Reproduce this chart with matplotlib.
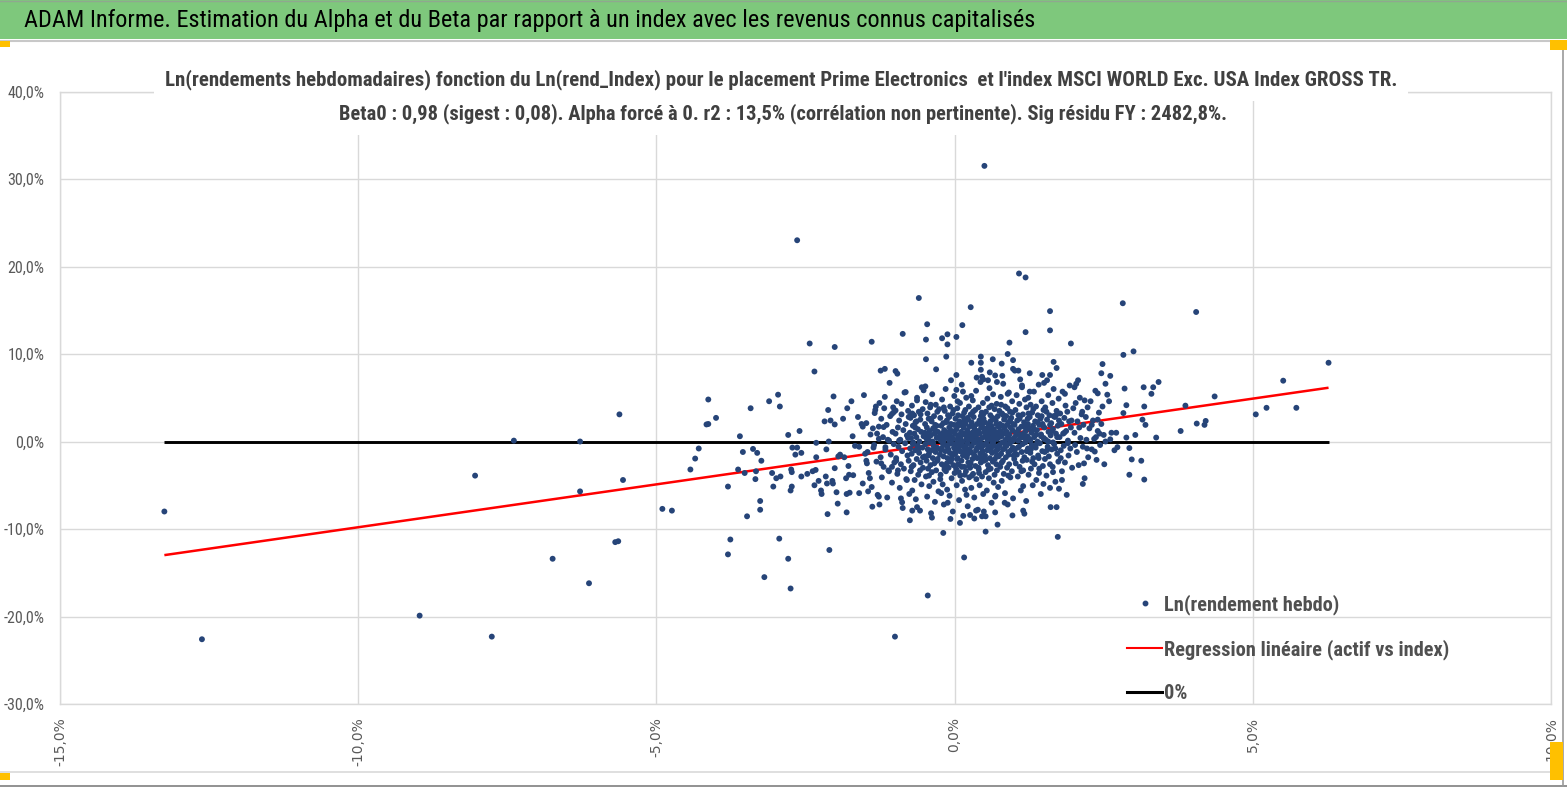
import matplotlib
matplotlib.use("Agg")
import matplotlib.pyplot as plt
from matplotlib.patches import Rectangle
from matplotlib.lines import Line2D
from matplotlib import font_manager as fm
from matplotlib.font_manager import FontProperties
import matplotlib.ticker as mticker

# ---------------- texts ----------------
banner_title = "ADAM Informe. Estimation du Alpha et du Beta par rapport à un index avec les revenus connus capitalisés"
chart_title_1 = ("Ln(rendements hebdomadaires) fonction du Ln(rend_Index) pour le placement Prime Electronics  "
                 "et l'index MSCI WORLD Exc. USA Index GROSS TR.")
chart_title_2 = ("Beta0 : 0,98 (sigest : 0,08). Alpha forcé à 0. r2 : 13,5% (corrélation non pertinente). "
                 "Sig résidu FY : 2482,8%.")
legend_labels = ["Ln(rendement hebdo)", "Regression linéaire (actif vs index)", "0%"]

beta0 = 0.98
x_ticks = [-15, -10, -5, 0, 5, 10]
y_ticks = [-30, -20, -10, 0, 10, 20, 30, 40]

# ---------------- data (% : index return, asset return) ----------------
outlier_pts = [
    (-13.25, -8.0), (-12.62, -22.6), (-8.97, -19.9), (-8.04, -3.9), (-7.76, -22.3), (-7.39, 0.1),
    (-6.74, -13.4), (-6.28, 0.0), (-6.28, -5.7), (-6.13, -16.2), (-5.62, 3.1), (-5.56, -4.4),
    (-5.69, -11.5), (-5.64, -11.4), (-4.9, -7.7), (-4.74, -7.9), (-4.43, -3.2), (-4.35, -1.95),
    (-4.29, -0.8), (-4.16, 1.95), (-4.13, 2.0), (-4.13, 4.8), (-4.0, 2.7), (-3.8, -5.15),
    (-3.8, -12.9), (-3.76, -11.2), (-3.63, -3.2), (-3.6, 0.6), (-3.55, -1.2), (-3.52, -3.6),
    (-3.48, -8.55), (-3.42, 3.8), (-3.38, -0.85), (-3.34, -4.3), (-3.33, -3.4), (-3.31, -1.3),
    (-3.26, -6.8), (-3.26, -7.8), (-3.24, -2.2), (-3.19, -15.5), (-3.11, 4.6), (-3.06, -3.6),
    (-3.04, -5.15), (-2.99, -4.2), (-2.96, 5.35), (-2.94, -11.1), (-2.93, 4.0), (-2.92, -4.0),
    (-2.79, 0.75), (-2.79, -13.4), (-2.75, -16.8), (-2.75, -5.6), (-2.73, -3.5), (-2.74, -3.2),
    (-2.73, -5.15), (-2.72, -0.7), (-2.67, -1.5), (-2.64, -0.7), (-2.6, 1.2), (-2.57, -1.3),
    (-2.57, -4.0), (-2.47, -3.7), (-2.43, 11.2), (-2.38, -3.4), (-2.35, 8.0), (-2.35, -5.0),
    (-2.33, -3.25), (-2.32, -0.15), (-2.32, -1.8), (-2.28, -4.5), (-2.24, -5.6), (-2.23, -6.0),
    (-2.18, 2.3), (-2.16, -4.0), (-2.15, -0.9), (-2.14, -4.8), (-2.13, -8.3), (-2.12, 3.6),
    (-2.11, 0.0), (-2.1, -12.4), (-2.08, 2.4), (-2.05, -4.5), (-2.04, -4.8), (-2.03, 5.15),
    (-2.01, 10.8), (-2.01, 1.95), (-2.01, -3.05), (-1.98, -5.8), (-1.96, -7.1), (-1.95, -1.7),
    (-1.92, -1.5), (-1.87, 2.6), (-1.85, -1.8), (-1.82, -4.2), (-1.81, -6.0), (-1.81, -8.1),
    (-1.8, 3.8), (-1.78, -2.8), (-1.77, -3.8), (-1.76, -5.85), (-1.73, 4.6), (-1.71, 0.6),
    (-1.7, -3.85), (-1.67, -0.5), (-1.62, 2.8), (-1.6, -5.9), (-1.6, -0.6), (-1.56, 2.0),
    (-1.54, 1.7), (-1.54, -4.8), (-1.52, 5.3), (-1.5, -1.4), (-1.48, -2.2), (-1.47, -2.5),
    (-1.45, -5.7), (-1.42, -4.2), (-1.39, 11.4), (-1.38, -7.45), (-1.36, -0.7), (-1.34, 3.25),
    (-1.32, 4.0), (-1.3, 0.9), (-1.27, -6.3), (-1.27, 1.7), (-1.26, -7.2), (-1.24, 8.1),
    (-1.17, 8.3), (-1.23, -2.5), (-1.19, 1.65), (-1.18, 3.8), (-1.16, -0.65), (-1.12, 0.2),
    (-1.1, -3.4), (-1.09, 6.7), (-1.05, 3.15), (-1.02, 3.35), (-0.99, 3.55), (-1.05, -2.9),
    (-0.99, 8.05), (-0.96, 7.75), (-0.98, -2.2), (-0.95, -3.3), (-0.93, 0.1), (-0.9, -6.5),
    (-0.88, -6.95), (-0.89, 4.3), (-0.87, 12.3), (-0.82, 5.65), (-0.8, -4.4), (-0.77, 2.8),
    (-0.74, 3.0), (-0.71, 3.2), (-0.75, -9.0), (-0.71, -7.9), (-0.63, -7.5), (-0.63, 4.7),
    (-0.6, 16.4), (-0.48, 11.65), (-0.46, 13.4), (-0.48, 9.4), (-0.45, -17.6), (-0.52, 5.85),
    (-0.49, 6.3), (-1.0, -22.3),
    (0.27, 15.35), (0.13, 13.3), (-0.21, 11.8), (-0.12, 12.25), (-0.12, 11.1), (0.03, 11.95),
    (-0.14, 9.7), (-0.31, 8.25), (0.03, 5.9), (0.28, 9.0), (0.44, 9.7), (0.44, 9.0), (0.44, 8.2),
    (0.46, 7.4), (0.48, 7.1), (0.64, 9.4), (0.59, 7.9), (0.68, 7.55), (0.71, 6.8), (0.79, 8.9),
    (0.89, 10.0), (0.92, 11.3), (0.98, 9.3), (0.98, 8.3), (1.01, 8.1), (1.07, 8.1), (1.19, 12.5),
    (1.26, 7.8), (1.6, 14.9), (1.6, 12.7), (1.66, 9.1), (1.71, 8.4), (1.47, 7.6), (1.6, 7.6),
    (1.5, 6.7), (1.55, 7.0), (1.95, 11.2), (2.07, 7.0), (2.04, 6.6), (2.01, 6.2),
    (0.16, -13.25), (-0.19, -10.45), (-0.07, -8.85), (-0.38, -8.7), (0.52, -10.3), (0.72, -9.5),
    (0.46, -8.55), (0.52, -8.55), (0.26, -8.4), (0.36, -7.9), (0.97, -8.45), (1.17, -8.25),
    (1.61, -7.5), (1.71, -7.5), (1.73, -10.9), (2.51, -2.6), (2.15, -4.85), (2.17, -2.5),
    (2.35, -1.15), (1.75, -5.4), (1.8, -4.4), (1.65, -3.5), (1.49, -4.85),
    (4.05, 14.8), (6.27, 9.0), (5.51, 6.95), (4.36, 5.15), (3.87, 4.1), (5.05, 3.1), (5.23, 3.85),
    (5.73, 3.85), (4.06, 2.05), (4.19, 1.9), (4.21, 2.35), (3.79, 1.2), (3.38, 0.45), (3.42, 6.8),
    (3.33, 6.2), (3.3, 5.45), (3.17, 6.2), (3.18, 4.0), (3.15, 2.5), (3.2, 1.9), (3.03, 0.75),
    (2.88, 0.45), (2.93, -0.75), (2.97, -2.05), (3.13, -2.2), (2.93, -3.8), (3.18, -4.35),
    (2.85, 6.05), (2.88, 4.15), (2.83, 3.25), (2.82, 15.8), (2.83, 9.9), (3.0, 10.3),
    (2.48, 8.85), (2.46, 7.8), (2.53, 6.6), (2.61, 7.5), (2.56, 5.35), (2.59, 4.6), (2.4, 2.5),
    (2.43, 0.9), (2.5, 0.75), (2.63, 1.0), (2.71, 1.0), (2.61, 0.25), (2.53, 0.0), (2.68, -1.0),
    (2.73, -0.65), (0.5, 31.5), (-2.64, 23.0), (1.08, 19.2), (1.19, 18.75),
    (1.13, 6.4), (0.89, 5.45), (1.26, 5.7), (1.85, 5.45), (2.18, 4.7), (2.4, 5.5),
    (0.84, -7.0), (0.68, -6.3), (1.15, -5.1),
]

cloud_pts = [
    (-1.48, 2.1), (-1.46, -1.2), (-1.44, -3.6), (-1.41, 0.8), (-1.39, -5.2), (-1.37, 1.5),
    (-1.35, -0.4), (-1.33, 3.6), (-1.31, -2.3), (-1.29, -6.1), (-1.27, 0.3), (-1.26, 4.4),
    (-1.24, -1.8), (-1.23, 2.6), (-1.22, -4.1), (-1.2, 0.5), (-1.19, -2.9), (-1.17, 5.1),
    (-1.16, -0.9), (-1.14, 1.9), (-1.13, -6.4), (-1.11, -3.3), (-1.1, 0.1), (-1.08, 2.9),
    (-1.07, -1.5), (-1.05, -4.7), (-1.04, 1.1), (-1.03, 3.9), (-1.02, -0.3), (-1.01, -2.4),
    (-0.99, 0.9), (-0.98, -1.9), (-0.97, 4.6), (-0.96, -3.7), (-0.95, 1.6), (-0.94, -0.6),
    (-0.93, 2.4), (-0.92, -5.3), (-0.91, 0.2), (-0.9, -2.6), (-0.89, 3.1), (-0.88, -1.1),
    (-0.87, -7.6), (-0.86, 1.3), (-0.85, -3.1), (-0.84, 5.6), (-0.83, -0.2), (-0.82, 2.0),
    (-0.81, -4.3), (-0.8, 0.7), (-0.79, -1.6), (-0.78, 3.5), (-0.77, -2.2), (-0.76, -6.0),
    (-0.75, 1.0),
    (-0.745, -0.8), (-0.74, 2.7), (-0.735, -3.4), (-0.73, 0.4), (-0.72, -1.4), (-0.715, 4.1),
    (-0.71, -5.6), (-0.70, 1.8), (-0.695, -0.1), (-0.69, -2.7), (-0.68, 3.0), (-0.675, 0.9),
    (-0.67, -4.4), (-0.66, -1.0), (-0.655, 2.2), (-0.65, -6.6), (-0.64, 0.5), (-0.635, -2.0),
    (-0.63, 5.0), (-0.62, -0.5), (-0.615, 1.4), (-0.61, -3.8), (-0.60, 3.4), (-0.595, -1.3),
    (-0.59, 0.0), (-0.58, -7.9), (-0.575, 2.5), (-0.57, -2.4), (-0.56, 1.1), (-0.555, -4.9),
    (-0.55, 6.2), (-0.54, -0.7), (-0.535, 3.7), (-0.53, -3.0), (-0.52, 0.6),
    (-0.5, -1.7), (-0.495, 2.0), (-0.49, -0.3), (-0.485, 4.5), (-0.48, -4.0), (-0.475, 0.8),
    (-0.47, -2.2), (-0.465, 1.6), (-0.46, -6.3), (-0.455, 3.2), (-0.45, -0.9), (-0.445, -3.1),
    (-0.44, 0.3), (-0.435, 2.6), (-0.43, -1.4), (-0.425, -5.1), (-0.42, 1.2), (-0.415, -0.1),
    (-0.41, 3.9), (-0.405, -2.7), (-0.40, 0.7), (-0.395, -8.2), (-0.39, -1.0), (-0.385, 2.3),
    (-0.38, -3.5), (-0.375, 5.4), (-0.37, 0.0), (-0.365, -1.9), (-0.36, 1.5), (-0.355, -4.6),
    (-0.35, -0.5), (-0.345, 2.9), (-0.34, -2.5), (-0.335, 0.9), (-0.33, -6.9), (-0.325, 1.9),
    (-0.32, -1.2), (-0.315, 4.2), (-0.31, -3.3), (-0.30, 0.4), (-0.295, -0.7), (-0.29, 3.4),
    (-0.285, -2.0), (-0.28, 1.1), (-0.27, -5.7),
    (-0.25, 0.6), (-0.245, -1.5), (-0.24, 2.7), (-0.235, -3.8), (-0.23, 0.1), (-0.225, 1.8),
    (-0.22, -0.8), (-0.215, -2.6), (-0.21, 4.8), (-0.205, 0.9), (-0.20, -4.9), (-0.195, -0.3),
    (-0.19, 2.1), (-0.185, -1.7), (-0.18, -7.2), (-0.175, 1.3), (-0.17, -2.9), (-0.165, 3.5),
    (-0.16, 0.4), (-0.155, -1.1), (-0.15, 6.0), (-0.145, -3.4), (-0.14, 0.8), (-0.135, -0.5),
    (-0.13, 2.4), (-0.125, -5.5), (-0.12, -1.9), (-0.115, 1.0), (-0.11, 3.0), (-0.105, -0.9),
    (-0.10, -3.0), (-0.095, 0.2), (-0.09, 1.6), (-0.085, -6.2), (-0.08, -1.3), (-0.075, 4.0),
    (-0.07, 0.6), (-0.065, -2.3), (-0.06, 2.0), (-0.055, -0.2), (-0.05, -4.2), (-0.045, 1.2),
    (-0.04, -1.6), (-0.035, 3.2), (-0.03, -8.0), (-0.025, 0.3), (-0.02, -2.7), (-0.015, 1.9),
    (-0.01, -0.7), (-0.005, 5.2), (0.0, -3.6), (-0.225, -5.9), (-0.115, -7.0), (-0.06, 7.0),
    (-0.18, 3.9),
    (0.005, 0.9), (0.01, -1.4), (0.015, 2.6), (0.02, -0.3), (0.025, -3.1), (0.03, 1.4),
    (0.035, -5.0), (0.04, 0.2), (0.045, 3.8), (0.05, -1.9), (0.055, 0.7), (0.06, -2.6),
    (0.065, 1.8), (0.07, -0.8), (0.075, -6.7), (0.08, 2.3), (0.085, -1.1), (0.09, 4.4),
    (0.095, -3.9), (0.10, 0.4), (0.105, -0.4), (0.11, 1.1), (0.115, -2.2), (0.12, 6.5),
    (0.125, -4.5), (0.13, 0.0), (0.135, 2.9), (0.14, -1.6), (0.145, -8.5), (0.15, 1.6),
    (0.155, -0.6), (0.16, 3.3), (0.165, -2.9), (0.17, 0.8), (0.175, -5.5), (0.18, -1.0),
    (0.185, 2.0), (0.19, -3.4), (0.195, 5.0), (0.20, 0.3), (0.205, -1.8), (0.21, 1.3),
    (0.215, -0.2), (0.22, -7.4), (0.225, 2.5), (0.23, -2.4), (0.235, 0.6), (0.24, 4.0),
    (0.245, -4.1), (0.25, -0.9), (0.03, 7.6), (0.09, -9.3), (0.14, 5.7), (0.2, -6.1),
    (0.06, 3.0), (0.17, -3.8), (0.12, 1.9), (0.22, 2.7), (0.04, -2.0), (0.24, -1.3),
    (0.255, 1.7), (0.26, -3.0), (0.265, 0.5), (0.27, 3.1), (0.275, -1.2), (0.28, -5.3),
    (0.285, 2.2), (0.29, -0.5), (0.295, 1.0), (0.30, -2.0), (0.305, 4.7), (0.31, -3.7),
    (0.315, 0.1), (0.32, 2.8), (0.325, -1.5), (0.33, -6.4), (0.335, 1.4), (0.34, -0.1),
    (0.345, 3.6), (0.35, -2.8), (0.355, 0.7), (0.36, 5.8), (0.365, -4.3), (0.37, -0.9),
    (0.375, 2.0), (0.38, -1.9), (0.385, 0.3), (0.39, -7.8), (0.395, 1.2), (0.40, 3.9),
    (0.405, -3.2), (0.41, -0.3), (0.415, 2.4), (0.42, -5.0), (0.425, 0.9), (0.43, -1.4),
    (0.435, 6.8), (0.44, -2.4), (0.445, 1.6), (0.45, -0.7), (0.455, 3.3), (0.46, -4.0),
    (0.465, 0.4), (0.47, -1.1), (0.475, 4.4), (0.48, -6.0), (0.485, 2.6), (0.49, -2.2),
    (0.495, 1.1), (0.50, -0.4), (0.28, 5.2), (0.33, -8.8), (0.37, 7.3), (0.41, -3.6),
    (0.44, 2.9), (0.31, 0.6), (0.36, -1.0), (0.46, 1.9), (0.49, -8.0), (0.27, -2.5),
    (0.505, 2.2), (0.51, -1.6), (0.515, 0.6), (0.52, -3.5), (0.525, 3.4), (0.53, -0.2),
    (0.535, 1.5), (0.54, -5.6), (0.545, -1.0), (0.55, 4.9), (0.555, 0.2), (0.56, -2.7),
    (0.565, 2.0), (0.57, -0.6), (0.575, -4.2), (0.58, 1.1), (0.585, 6.1), (0.59, -1.9),
    (0.595, 0.4), (0.60, 3.0), (0.605, -3.1), (0.61, -0.8), (0.615, 1.8), (0.62, -7.0),
    (0.625, 0.9), (0.63, -1.3), (0.635, 2.7), (0.64, -2.3), (0.645, 5.4), (0.65, 0.0),
    (0.655, -4.7), (0.66, 1.4), (0.665, -0.5), (0.67, 3.7), (0.675, -2.0), (0.68, 0.7),
    (0.685, -6.2), (0.69, 2.4), (0.695, -1.1), (0.70, 1.0), (0.705, 4.3), (0.71, -3.3),
    (0.715, 0.3), (0.72, -0.9), (0.725, 2.9), (0.73, -5.2), (0.735, 1.7), (0.74, -1.7),
    (0.745, 0.5), (0.75, 3.5), (0.56, 7.0), (0.62, 4.1), (0.68, -8.1), (0.6, 2.3), (0.7, -2.6),
    (0.755, -0.4), (0.76, 2.0), (0.765, -2.9), (0.77, 1.2), (0.775, 5.1), (0.78, -1.4),
    (0.785, 0.6), (0.79, -4.5), (0.795, 3.2), (0.80, -0.1), (0.805, 1.8), (0.81, -2.2),
    (0.815, 6.6), (0.82, 0.9), (0.825, -3.7), (0.83, 2.5), (0.835, -0.8), (0.84, 1.5),
    (0.845, -5.9), (0.85, 4.0), (0.855, 0.2), (0.86, -1.8), (0.865, 2.9), (0.87, -0.5),
    (0.875, 1.1), (0.88, -3.0), (0.885, 3.8), (0.89, -7.2), (0.895, 0.5), (0.90, -1.2),
    (0.905, 2.2), (0.91, 5.6), (0.915, -2.6), (0.92, 0.8), (0.925, -0.2), (0.93, 3.4),
    (0.935, -4.1), (0.94, 1.6), (0.945, -1.0), (0.95, 2.7), (0.955, 0.0), (0.96, -3.4),
    (0.965, 4.6), (0.97, 1.3), (0.975, -0.7), (0.98, -6.5), (0.985, 2.0), (0.99, -1.6),
    (0.995, 0.4), (0.8, 7.5),
    (1.005, 1.9), (1.01, -0.9), (1.02, 3.6), (1.025, -2.5), (1.03, 0.7), (1.04, 5.3),
    (1.045, -1.5), (1.05, 2.4), (1.06, -4.0), (1.065, 0.1), (1.07, 1.4), (1.08, -0.6),
    (1.085, 4.3), (1.09, -2.9), (1.10, 2.9), (1.105, 0.4), (1.11, -5.6), (1.12, 1.7),
    (1.125, -1.2), (1.13, 6.2), (1.14, -0.3), (1.145, 3.1), (1.15, -3.3), (1.16, 0.9),
    (1.165, 2.2), (1.17, -1.8), (1.18, 4.8), (1.185, -0.1), (1.19, 1.2), (1.20, -6.8),
    (1.205, 3.9), (1.21, -2.1), (1.22, 0.6), (1.225, 2.6), (1.23, -0.8), (1.235, 5.0),
    (1.24, -3.8), (1.245, 1.5), (1.1, 7.1), (1.15, -7.9),
    (1.255, 0.3), (1.26, 2.8), (1.27, -1.3), (1.275, 4.2), (1.28, -3.1), (1.29, 1.0),
    (1.295, -0.4), (1.30, 3.3), (1.31, -5.0), (1.315, 1.8), (1.32, -1.9), (1.33, 5.7),
    (1.335, 0.5), (1.34, -2.6), (1.35, 2.3), (1.36, -0.7), (1.365, 4.0), (1.37, -4.4),
    (1.38, 1.3), (1.39, 0.0), (1.395, 3.0), (1.40, -1.6), (1.41, 6.5), (1.415, -3.6),
    (1.42, 1.9), (1.43, -0.2), (1.44, 2.6), (1.445, -6.0), (1.45, 0.8), (1.46, 4.6),
    (1.47, -1.1), (1.475, 2.0), (1.48, -2.8), (1.49, 3.6), (1.495, 0.4),
    (1.505, 1.6), (1.515, -2.0), (1.52, 3.9), (1.53, 0.2), (1.54, -3.9), (1.55, 2.5),
    (1.56, -0.6), (1.57, 5.3), (1.575, 1.1), (1.58, -1.7), (1.59, 3.0), (1.60, -5.3),
    (1.61, 0.7), (1.62, 2.1), (1.63, -0.9), (1.64, 4.4), (1.645, -2.9), (1.65, 1.4),
    (1.66, 6.0), (1.67, -0.3), (1.68, 2.8), (1.69, -4.6), (1.70, 0.9), (1.71, 3.5),
    (1.72, -1.4), (1.73, 1.8), (1.74, -2.3), (1.745, 4.9),
    (1.76, 0.5), (1.77, 3.2), (1.78, -1.0), (1.79, 2.0), (1.80, -3.4), (1.81, 5.7),
    (1.82, 0.9), (1.83, -0.5), (1.84, 2.7), (1.85, -2.4), (1.86, 4.1), (1.87, 1.2),
    (1.88, -6.1), (1.89, 3.4), (1.90, 0.1), (1.91, -1.6), (1.92, 2.3), (1.93, 6.4),
    (1.94, -0.8), (1.95, 1.6), (1.97, -3.0), (1.99, 3.8),
    (2.01, 1.0), (2.03, 4.4), (2.05, -1.2), (2.06, 2.3), (2.08, -2.7), (2.1, 5.0),
    (2.11, 0.4), (2.13, 3.1), (2.15, -0.6), (2.16, 1.9), (2.18, -4.2), (2.2, 2.8),
    (2.21, 0.2), (2.23, 3.9), (2.24, -1.8),
    (2.26, 1.5), (2.28, 4.6), (2.3, -0.9), (2.32, 2.4), (2.34, 0.3), (2.36, 5.8),
    (2.38, -2.1), (2.4, 1.2), (2.42, 3.3), (2.44, -0.4), (2.46, 2.0), (2.48, 4.0),
]

core_extra_pts = [
    (-0.78, 0.4), (-0.72, -2.9), (-0.66, 1.6), (-0.61, -0.9), (-0.57, 3.1), (-0.53, -1.8),
    (-0.47, 0.3), (-0.43, -3.9), (-0.39, 2.6), (-0.36, -0.2), (-0.33, 1.3), (-0.29, -2.2),
    (-0.26, 3.7), (-0.23, -1.0), (-0.2, 0.5), (-0.17, -3.2), (-0.14, 2.2), (-0.11, -0.4),
    (-0.08, 1.1), (-0.05, -2.0), (-0.02, 3.6), (0.01, -0.9), (0.04, 1.9), (0.07, -3.5),
    (0.1, 0.8), (0.13, -1.2), (0.16, 2.4), (0.19, -0.5), (0.22, 1.0), (0.25, -2.8),
    (0.28, 0.2), (0.31, 3.4), (0.34, -1.7), (0.37, 0.9), (0.4, -3.0), (0.43, 2.1),
    (0.46, -0.3), (0.49, 1.5), (0.52, -2.1), (0.55, 0.6), (0.58, 3.9), (0.61, -1.1),
    (0.64, 0.3), (0.67, -3.8), (0.7, 2.0), (0.73, -0.6), (0.76, 1.2), (0.79, -2.4),
    (0.82, 3.0), (0.85, -0.3), (0.88, 1.9), (0.91, -1.5), (0.94, 0.2), (0.97, 3.3),
    (1.0, -2.0), (1.03, 1.0), (1.06, -0.7), (1.09, 2.6), (1.12, -3.4), (1.15, 0.5),
    (1.18, 1.7), (1.21, -1.1), (1.24, 3.2), (1.27, 0.1), (1.3, -2.3), (1.33, 1.4),
    (1.36, -0.4), (1.39, 2.2), (1.42, -3.1), (1.45, 0.6), (1.48, 1.8), (1.51, -1.2),
    (1.54, 3.4), (1.57, 0.0), (1.6, -2.6), (1.63, 1.2), (1.66, 2.9), (1.69, -0.8),
    (1.72, 0.5), (1.75, 2.4),
    (-0.7, -0.3), (-0.64, 2.3), (-0.58, -3.3), (-0.5, 1.0), (-0.44, -1.6), (-0.4, 4.2),
    (-0.34, -0.9), (-0.3, 1.8), (-0.24, -4.3), (-0.19, 0.0), (-0.13, -2.5), (-0.09, 2.8),
    (-0.04, 0.4), (0.0, -1.3), (0.05, 4.6), (0.08, -0.1), (0.12, -2.9), (0.15, 0.9),
    (0.18, 3.6), (0.21, -1.5), (0.26, 0.4), (0.29, -3.9), (0.33, 1.7), (0.38, -0.7),
    (0.42, 0.1), (0.45, -1.9), (0.48, 3.1), (0.53, 0.9), (0.57, -3.2), (0.6, 1.4),
    (0.63, -0.2), (0.66, 2.6), (0.71, -1.6), (0.74, 0.8), (0.78, 4.2), (0.81, -0.9),
    (0.86, 0.9), (0.9, -3.9), (0.93, 2.4), (0.98, 0.1), (1.02, -1.4), (1.07, 3.0),
    (1.11, 0.8), (1.14, -2.2), (1.19, 0.3), (1.23, 2.0), (1.28, -0.9), (1.32, 3.7),
    (1.37, 0.8), (1.41, -1.9), (1.46, 2.9), (1.5, 0.3), (1.55, -1.0), (1.6, 1.9),
    (1.65, -0.1), (1.7, 3.0), (1.78, -1.9), (1.84, 1.0), (1.9, -0.2), (1.96, 2.4),
    (2.02, -0.4), (2.09, 1.6), (2.14, 3.4), (2.22, -0.8), (2.3, 1.9), (2.37, 0.5),
]

all_pts = outlier_pts + cloud_pts + core_extra_pts
ret_index = [p[0] for p in all_pts]
ret_asset = [p[1] for p in all_pts]


# ---------------- fonts: prefer a narrow sans (Calibri-like look) ----------------
def _w(f):
    w = f.weight
    if isinstance(w, str):
        w = fm.weight_dict.get(w, 400)
    return w


def pick_font(bold=False):
    prefs = ["Liberation Sans Narrow", "Roboto Condensed", "Open Sans Condensed",
             "Noto Sans Condensed", "DejaVu Sans", "Noto Sans", "Open Sans", "Roboto"]
    for nm in prefs:
        for f in fm.fontManager.ttflist:
            if f.name != nm or f.style != "normal":
                continue
            narrow_face = ("Narrow" in nm or "Condensed" in nm
                           or f.stretch in ("condensed", "semi-condensed", "extra-condensed"))
            if not narrow_face:
                continue
            if bold == (_w(f) >= 600):
                return FontProperties(fname=f.fname)
    return FontProperties(family="Roboto", weight="bold" if bold else "normal")


font_reg = pick_font(False)
font_bold = pick_font(True)

# ---------------- figure ----------------
W, H = 1567, 787
fig = plt.figure(figsize=(W / 100, H / 100), dpi=100)
fig.patch.set_facecolor("white")
renderer = fig.canvas.get_renderer()


def fx(px):
    return px / W


def fy(py):
    return 1 - py / H


def fit_width(txt, target_px, size0):
    txt.set_fontsize(size0)
    w = txt.get_window_extent(renderer).width
    txt.set_fontsize(size0 * target_px / w)
    return size0 * target_px / w


# banner
fig.patches.append(Rectangle((0, fy(39)), 1, 39 / H, transform=fig.transFigure,
                             facecolor="#7ec87c", edgecolor="none", zorder=0))
fig.add_artist(Line2D([0, 1], [fy(40.5), fy(40.5)], transform=fig.transFigure,
                      color="#c8c8c8", lw=1.5))
fig.add_artist(Line2D([0, 1], [fy(0.5), fy(0.5)], transform=fig.transFigure,
                      color="#8fa88f", lw=1.0))
t_banner = fig.text(fx(24), fy(21), banner_title, ha="left", va="center",
                    fontproperties=font_reg, color="black")
fit_width(t_banner, 1014, 16)

# frame lines
fig.add_artist(Line2D([0, fx(1562)], [fy(772), fy(772)], transform=fig.transFigure,
                      color="#d9d9d9", lw=1.2))
fig.add_artist(Line2D([0, 1], [fy(786), fy(786)], transform=fig.transFigure,
                      color="#7f7f7f", lw=1.2))
fig.add_artist(Line2D([fx(1563), fx(1563)], [0, fy(41)], transform=fig.transFigure,
                      color="#9a9a9a", lw=1.2))

# orange handles
for (px0, py0, pw, ph) in [(0, 41, 10, 6), (1550, 40, 17, 10), (0, 773, 10, 7), (1550, 742, 13, 38)]:
    fig.patches.append(Rectangle((fx(px0), fy(py0 + ph)), pw / W, ph / H,
                                 transform=fig.transFigure, facecolor="#ffc000",
                                 edgecolor="none", zorder=5))

# axes
left, right, top, bottom = 60, 1551, 91.5, 704
ax = fig.add_axes([fx(left), fy(bottom), (right - left) / W, (bottom - top) / H])
ax.set_xlim(x_ticks[0], x_ticks[-1])
ax.set_ylim(y_ticks[0], y_ticks[-1])
ax.set_xticks(x_ticks)
ax.set_yticks(y_ticks)
pct = mticker.FuncFormatter(lambda v, p: f"{v:.1f}%".replace(".", ","))
ax.xaxis.set_major_formatter(pct)
ax.yaxis.set_major_formatter(pct)
ax.grid(True, color="#d9d9d9", lw=1.0, zorder=0)
ax.set_axisbelow(True)
for s in ax.spines.values():
    s.set_color("#d9d9d9")
    s.set_linewidth(1.0)

# y tick label size fitted so "40,0%" is ~37 px wide
probe = fig.text(0, 0, "40,0%", fontproperties=font_reg)
ytick_size = fit_width(probe, 37, 11)
probe.remove()
ax.tick_params(axis="y", length=0, pad=11, labelsize=ytick_size, labelcolor="#595959")
ax.tick_params(axis="x", length=0, pad=9.5, labelsize=10, labelcolor="#595959",
               labelrotation=90)
for lab in ax.get_yticklabels():
    lab.set_fontproperties(font_reg)
    lab.set_fontsize(ytick_size)
for lab in ax.get_xticklabels():
    lab.set_family(["DejaVu Sans"])
    lab.set_va("top")

xmin, xmax = min(ret_index), max(ret_index)
ax.plot([xmin, xmax], [beta0 * xmin, beta0 * xmax], color="#ff0000", lw=1.8, zorder=2,
        solid_capstyle="butt")
ax.plot([xmin, xmax], [0, 0], color="black", lw=2.1, zorder=2, solid_capstyle="butt")
ax.scatter(ret_index, ret_asset, s=18, color="#264478", edgecolors="none", zorder=3)

# legend (semi-bold gray text)
probe = fig.text(0, 0, legend_labels[1], fontproperties=font_bold)
leg_size = fit_width(probe, 286, 14)
probe.remove()
leg_font = font_bold.copy()
leg_font.set_size(leg_size)
leg_px = leg_size * 100 / 72
handles = [
    Line2D([], [], linestyle="none", marker="o", markersize=3.2, color="#264478"),
    Line2D([], [], color="#ff0000", lw=1.5),
    Line2D([], [], color="black", lw=2.2),
]
leg = ax.legend(handles, legend_labels, loc="upper left",
                bbox_to_anchor=(fx(1127), fy(594)), bbox_transform=fig.transFigure,
                frameon=False, borderpad=0, borderaxespad=0,
                handlelength=35 / leg_px, handletextpad=0.08,
                labelspacing=(49 - 1.2 * leg_px) / leg_px,
                prop=leg_font)
for t in leg.get_texts():
    t.set_color("#505050")

# chart title (white boxes hide gridlines behind)
box = dict(facecolor="white", edgecolor="none", pad=5)
t1 = fig.text(fx(781), fy(80), chart_title_1, ha="center", va="center",
              fontproperties=font_bold, color="#404040", bbox=box)
fit_width(t1, 1237, 14)
t2 = fig.text(fx(783), fy(114), chart_title_2, ha="center", va="center",
              fontproperties=font_bold, color="#404040", bbox=box)
fit_width(t2, 890, 14)

fig.savefig("out.png", dpi=100, facecolor="white")
